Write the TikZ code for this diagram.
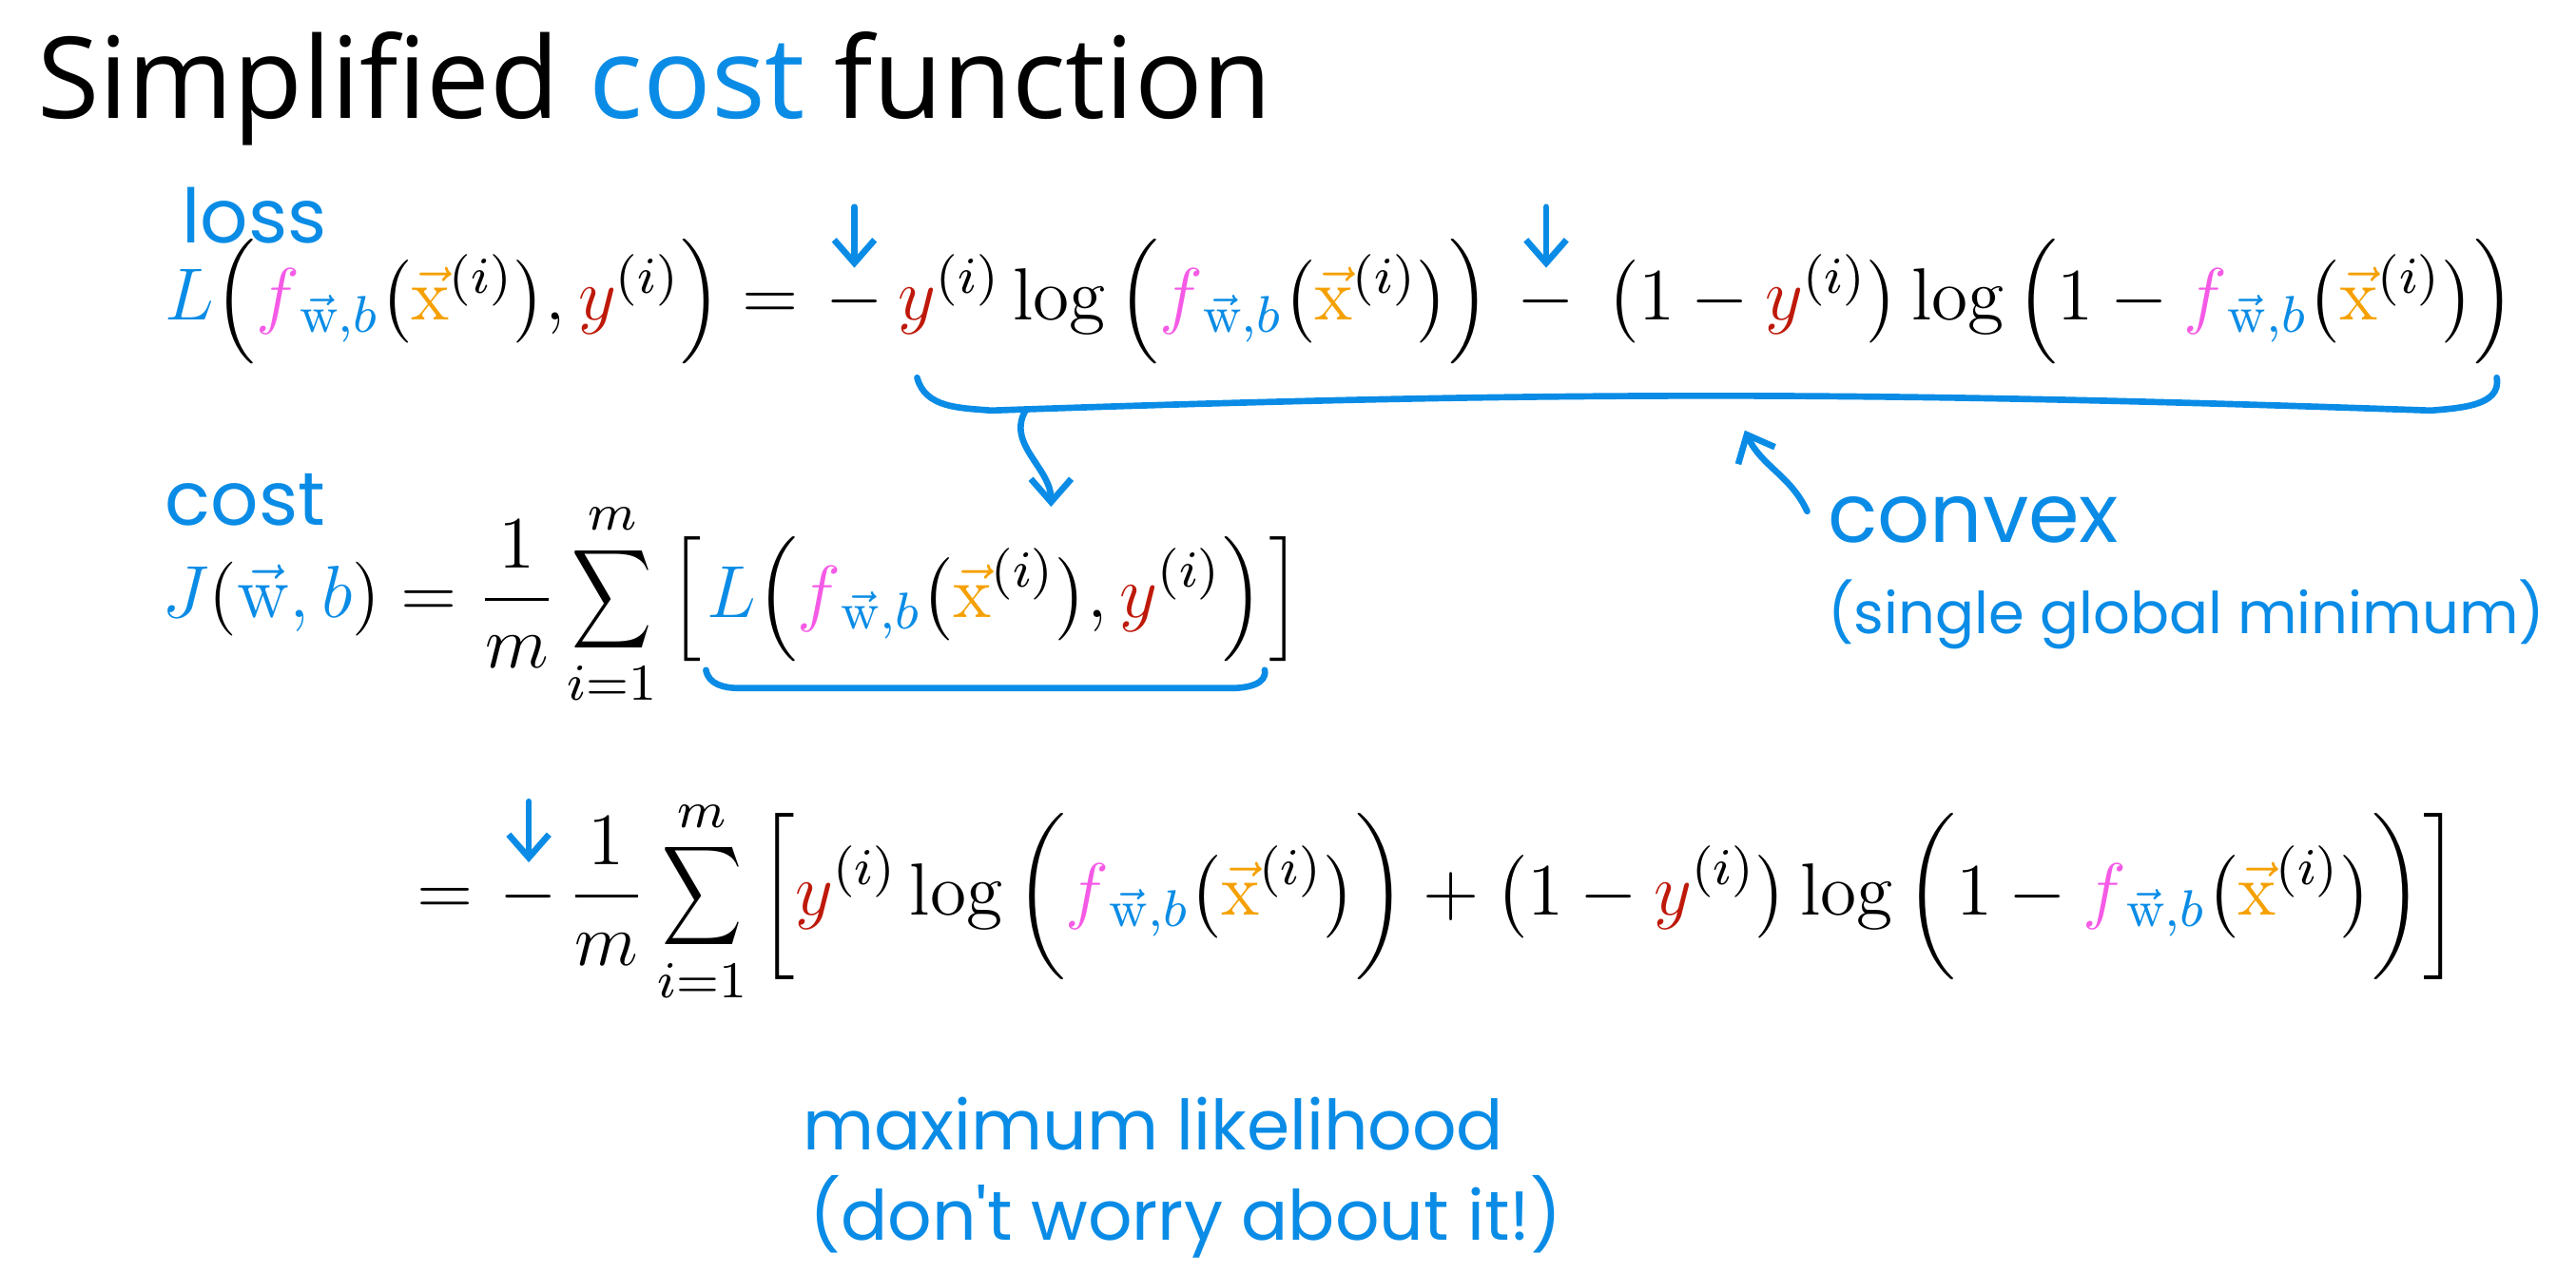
\RequirePackage{fix-cm}
\documentclass[tikz,border=0pt]{standalone}
\usepackage{fontspec}
\usepackage{amsmath}
\usetikzlibrary{positioning,arrows.meta}
\newfontfamily\titlefont{Open Sans}
\newfontfamily\handfont{Poppins}
\definecolor{inkblue}{RGB}{10,140,230}
\definecolor{fpink}{RGB}{245,90,230}
\definecolor{xorange}{RGB}{245,160,0}
\definecolor{yred}{RGB}{190,25,10}
% pieces of the formulas
\newcommand{\fwb}{{\color{fpink}f}_{\color{inkblue}\vec{\mathrm{w}},b}}
\newcommand{\xvi}{{\color{xorange}\vec{\mathrm{x}}}^{(i)}}
\newcommand{\yi}{{\color{yred}y}^{(i)}}
\newcommand{\sumim}{\mathop{\vcenter{\hbox{\scalebox{0.8}[1]{$\displaystyle\sum$}}}}\limits_{i=1}^{m}}
\tikzset{
  eqpart/.style={inner sep=0pt, font=\fontsize{12.8}{15}\selectfont},
  handnote/.style={text=inkblue, inner sep=0pt, font=\handfont\fontsize{12}{14}\selectfont},
  handline/.style={draw=inkblue, line width=1.1pt, line cap=round, line join=round},
  handarrow/.style={handline, -{Straight Barb[length=4pt,width=7pt]}},
}
\begin{document}
\begin{tikzpicture}
\useasboundingbox (0,0) rectangle (15.68,-7.75);
\node[anchor=base west, inner sep=0pt, font=\titlefont\fontsize{19.6}{24}\selectfont] (title) at (0.22,-0.72) {Simplified {\color{inkblue}cost} function};
% loss
\node[handnote, anchor=base west, font=\handfont\fontsize{13}{15}\selectfont] (lossNote) at (1.10,-1.48) {loss};
\node[eqpart, anchor=base west] (lossLhs) at (1.00,-1.95) {${\color{inkblue}L}\Big(\fwb\big(\xvi\big),\yi\Big) =$};
\node[eqpart, base right=0.15cm of lossLhs] (minusA) {$-$};
\node[eqpart, base right=0.08cm of minusA] (termA) {$\yi\log\Big(\fwb\big(\xvi\big)\Big)$};
\node[eqpart, base right=0.15cm of termA] (minusB) {$-$};
\node[eqpart, base right=0.18cm of minusB] (termB) {$\big(1-\yi\big)\log\Big(1-\fwb\big(\xvi\big)\Big)$};
\draw[handarrow] ([yshift=0.42cm]minusA.north) -- ([yshift=0.05cm]minusA.north);
\draw[handarrow] ([yshift=0.42cm]minusB.north) -- ([yshift=0.05cm]minusB.north);
% brace under the loss terms
\coordinate (braceL) at ([xshift=0.12cm,yshift=-0.05cm]termA.south west);
\coordinate (braceR) at ([xshift=-0.12cm,yshift=-0.05cm]termB.south east);
\coordinate (braceDrop) at ([xshift=0.66cm,yshift=-0.2cm]braceL);
\draw[handline] (braceL) to[out=-75,in=175] ([xshift=0.45cm,yshift=-0.2cm]braceL)
  to[out=2,in=178] ([xshift=-0.4cm,yshift=-0.2cm]braceR) to[out=5,in=-80] (braceR);
% cost
\node[handnote, anchor=base west, font=\handfont\fontsize{13}{15}\selectfont] (costNote) at (1.00,-3.20) {cost};
\node[eqpart, anchor=base west] (costLhs) at (0.98,-3.76) {$\displaystyle {\color{inkblue}J}({\color{inkblue}\vec{\mathrm{w}},b}) = \frac{1}{m}\sumim\Big[$};
\node[eqpart, base right=0.02cm of costLhs] (costTerm) {$\displaystyle {\color{inkblue}L}\Big(\fwb\big(\xvi\big),\yi\Big)$};
\node[eqpart, base right=0.02cm of costTerm] (costClose) {$\Big]$};
\draw[handarrow] (braceDrop) to[out=-120,in=90] ([xshift=0.4cm,yshift=0.15cm]costTerm.north);
\draw[handline] ([yshift=-0.02cm]costTerm.south west) to[out=-80,in=180] ([xshift=0.2cm,yshift=-0.13cm]costTerm.south west)
  -- ([xshift=-0.2cm,yshift=-0.13cm]costTerm.south east) to[out=0,in=-80] ([yshift=-0.02cm]costTerm.south east);
% convex note
\coordinate (convexTip) at (10.62,-2.62);
\node[handnote, anchor=base west, font=\handfont\fontsize{14.2}{17}\selectfont] (convexNote) at (11.12,-3.30) {convex};
\node[handnote, anchor=base west, font=\handfont\fontsize{10}{12}\selectfont] (minNote) at (11.12,-3.86) {(single global minimum)};
\draw[handarrow] ([xshift=-0.12cm,yshift=0.05cm]convexNote.west) to[out=115,in=-65] (convexTip);
% second form
\node[eqpart, anchor=base west] (eqB) at (2.53,-5.57) {$=$};
\node[eqpart, base right=0.15cm of eqB] (minusC) {$-$};
\node[eqpart, base right=0.05cm of minusC] (sumB) {$\displaystyle\frac{1}{m}\sumim\bigg[\yi\log\bigg(\fwb\big(\xvi\big)\bigg)+\big(1-\yi\big)\log\bigg(1-\fwb\big(\xvi\big)\bigg)\bigg]$};
\draw[handarrow] ([yshift=0.42cm]minusC.north) -- ([yshift=0.05cm]minusC.north);
% maximum likelihood
\node[handnote, anchor=base west] (mlNote) at (4.88,-7.00) {maximum likelihood};
\node[handnote, anchor=base west] (worryNote) at (4.92,-7.55) {(don't worry about it!)};
\end{tikzpicture}
\end{document}
